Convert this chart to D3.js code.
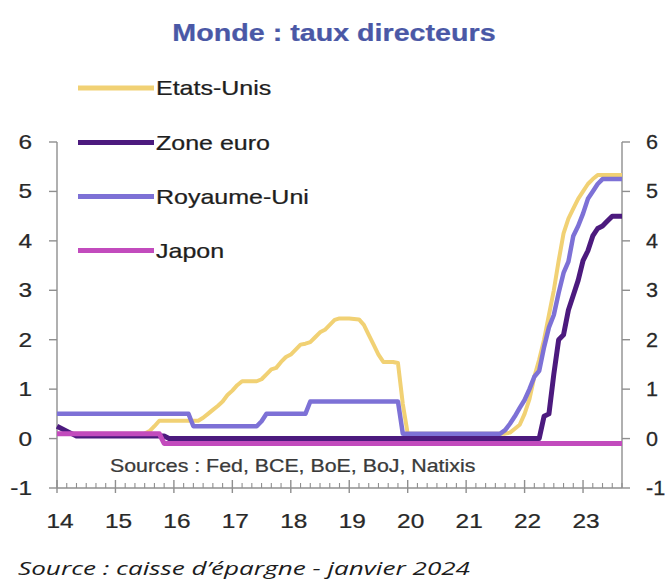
<!DOCTYPE html>
<html><head><meta charset="utf-8">
<script src="https://cdn.jsdelivr.net/npm/d3@7"></script>
<style>html,body{margin:0;padding:0;background:#fff;} svg{display:block;}</style>
</head><body>
<svg id="chart" width="667" height="582"></svg>
<script>
// ---- DATA (monthly, Jan 2014 .. Sep 2023) ----
const yearLabels = ["14","15","16","17","18","19","20","21","22","23"];
const yTicks = [-1,0,1,2,3,4,5,6];
const seriesNames = ["Etats-Unis","Zone euro","Royaume-Uni","Japon"];

const etatsUnis = [
 0.1,0.1,0.1,0.1,0.1,0.1,0.1,0.1,0.1,0.1,0.1,0.1,
 0.1,0.1,0.1,0.1,0.1,0.1,0.1,0.15,0.25,0.36,0.36,0.36,
 0.36,0.36,0.36,0.36,0.36,0.36,0.42,0.5,0.58,0.66,0.75,0.88,
 0.97,1.08,1.16,1.16,1.16,1.16,1.2,1.3,1.4,1.43,1.55,1.65,
 1.7,1.8,1.9,1.92,1.95,2.05,2.15,2.2,2.3,2.4,2.43,2.43,
 2.43,2.42,2.41,2.3,2.1,1.9,1.7,1.55,1.55,1.55,1.53,0.7,
 0.1,0.1,0.1,0.1,0.1,0.1,0.1,0.1,0.1,0.1,0.1,0.1,
 0.1,0.1,0.1,0.1,0.1,0.1,0.1,0.1,0.1,0.12,0.2,0.28,
 0.5,0.8,1.25,1.6,2.0,2.5,3.0,3.6,4.15,4.45,4.65,4.85,
 5.0,5.15,5.25,5.33,5.33,5.33,5.33,5.33,5.33
];
const zoneEuro = [
 0.25,0.2,0.15,0.1,0.05,0.05,0.05,0.05,0.05,0.05,0.05,0.05,
 0.05,0.05,0.05,0.05,0.05,0.05,0.05,0.05,0.05,0.05,0.05,0,
 0,0,0,0,0,0,0,0,0,0,0,0,
 0,0,0,0,0,0,0,0,0,0,0,0,
 0,0,0,0,0,0,0,0,0,0,0,0,
 0,0,0,0,0,0,0,0,0,0,0,0,
 0,0,0,0,0,0,0,0,0,0,0,0,
 0,0,0,0,0,0,0,0,0,0,0,0,
 0,0,0,0,0.45,0.5,1.3,2.0,2.1,2.6,2.9,3.2,
 3.6,3.8,4.1,4.25,4.3,4.4,4.5,4.5,4.5
];
const royaumeUni = [
 0.5,0.5,0.5,0.5,0.5,0.5,0.5,0.5,0.5,0.5,0.5,0.5,
 0.5,0.5,0.5,0.5,0.5,0.5,0.5,0.5,0.5,0.5,0.5,0.5,
 0.5,0.5,0.5,0.5,0.25,0.25,0.25,0.25,0.25,0.25,0.25,0.25,
 0.25,0.25,0.25,0.25,0.25,0.25,0.35,0.5,0.5,0.5,0.5,0.5,
 0.5,0.5,0.5,0.5,0.75,0.75,0.75,0.75,0.75,0.75,0.75,0.75,
 0.75,0.75,0.75,0.75,0.75,0.75,0.75,0.75,0.75,0.75,0.75,0.1,
 0.1,0.1,0.1,0.1,0.1,0.1,0.1,0.1,0.1,0.1,0.1,0.1,
 0.1,0.1,0.1,0.1,0.1,0.1,0.1,0.1,0.17,0.3,0.45,0.62,
 0.78,1.0,1.25,1.37,1.85,2.25,2.5,2.95,3.35,3.58,4.1,4.3,
 4.55,4.85,5.0,5.15,5.25,5.25,5.25,5.25,5.25
];
const japon = [
 0.1,0.1,0.1,0.1,0.1,0.1,0.1,0.1,0.1,0.1,0.1,0.1,
 0.1,0.1,0.1,0.1,0.1,0.1,0.1,0.1,0.1,0.1,-0.1,-0.1,
 -0.1,-0.1,-0.1,-0.1,-0.1,-0.1,-0.1,-0.1,-0.1,-0.1,-0.1,-0.1,
 -0.1,-0.1,-0.1,-0.1,-0.1,-0.1,-0.1,-0.1,-0.1,-0.1,-0.1,-0.1,
 -0.1,-0.1,-0.1,-0.1,-0.1,-0.1,-0.1,-0.1,-0.1,-0.1,-0.1,-0.1,
 -0.1,-0.1,-0.1,-0.1,-0.1,-0.1,-0.1,-0.1,-0.1,-0.1,-0.1,-0.1,
 -0.1,-0.1,-0.1,-0.1,-0.1,-0.1,-0.1,-0.1,-0.1,-0.1,-0.1,-0.1,
 -0.1,-0.1,-0.1,-0.1,-0.1,-0.1,-0.1,-0.1,-0.1,-0.1,-0.1,-0.1,
 -0.1,-0.1,-0.1,-0.1,-0.1,-0.1,-0.1,-0.1,-0.1,-0.1,-0.1,-0.1,
 -0.1,-0.1,-0.1,-0.1,-0.1,-0.1,-0.1,-0.1,-0.1
];
const seriesColors = ["#f1d174","#4c1a7e","#7d71d6","#c24bbd"];
const seriesWidths = [4,5,4.5,5];

// ---- DRAWING ----
const svg = d3.select("#chart");
svg.append("rect").attr("width",667).attr("height",582).attr("fill","#fff");
const SX = 1.22;
const FONT = "'Liberation Sans', Arial, Helvetica, sans-serif";
const AXIS = "#8f8f8f";

function label(parent, px, py, str, size, anchor, fill, weight, sx){
  return parent.append("text")
    .attr("transform", `translate(${px},${py}) scale(${sx||SX},1)`)
    .attr("text-anchor", anchor)
    .style("font-family", FONT)
    .style("font-size", size + "px")
    .style("font-weight", weight || "normal")
    .attr("fill", fill)
    .attr("stroke", fill)
    .attr("stroke-width", 0.25)
    .text(str);
}

const x = d3.scaleLinear().domain([0, etatsUnis.length - 1]).range([57, 622]);
const y = d3.scaleLinear().domain([-1, 6]).range([488, 142]);

// Title
label(svg, 334, 40.5, "Monde : taux directeurs", 23.5, "middle", "#4a58a6", "bold");

// Axes
const ax = svg.append("g").attr("stroke", AXIS).attr("stroke-width", 1.4).attr("fill","none");
ax.append("line").attr("x1", x(0)).attr("x2", x(0)).attr("y1", y(6)).attr("y2", y(-1));
ax.append("line").attr("x1", x.range()[1]).attr("x2", x.range()[1]).attr("y1", y(6)).attr("y2", y(-1));
ax.append("line").attr("x1", x(0)).attr("x2", x.range()[1]).attr("y1", y(-1)).attr("y2", y(-1));
yTicks.forEach(v => {
  ax.append("line").attr("x1", x(0) - 8).attr("x2", x(0)).attr("y1", y(v)).attr("y2", y(v));
  ax.append("line").attr("x1", x.range()[1]).attr("x2", x.range()[1] + 8).attr("y1", y(v)).attr("y2", y(v));
});
// bottom ticks: majors at each January, minors every 2 months
const n = etatsUnis.length;
for (let m = 0; m < n; m += 2) {
  if (m % 12 === 0) {
    ax.append("line").attr("x1", x(m)).attr("x2", x(m)).attr("y1", y(-1) - 8).attr("y2", y(-1) + 5);
  } else {
    ax.append("line").attr("x1", x(m)).attr("x2", x(m)).attr("y1", y(-1) - 5).attr("y2", y(-1)).attr("stroke-width", 1.1);
  }
}

// Tick labels
yTicks.forEach(v => {
  label(svg, 32, y(v) + 7, String(v), 20, "end", "#282828");
  label(svg, 646, y(v) + 7, String(v), 20, "start", "#282828", "normal", 1.08);
});
yearLabels.forEach((t, i) => {
  label(svg, x(i * 12) + 3, 528, t, 20, "middle", "#282828");
});

// Series lines
const seriesData = [etatsUnis, zoneEuro, royaumeUni, japon];
const line = d3.line().x((d, i) => x(i)).y(d => y(d));
seriesData.forEach((data, k) => {
  svg.append("path").datum(data)
    .attr("d", line)
    .attr("fill", "none")
    .attr("stroke", seriesColors[k])
    .attr("stroke-width", seriesWidths[k])
    .attr("stroke-linejoin", "round");
});

// Legend
const legendY = [88, 142.5, 196.5, 250.5];
seriesNames.forEach((name, k) => {
  svg.append("line").attr("x1", 78).attr("x2", 154)
    .attr("y1", legendY[k]).attr("y2", legendY[k])
    .attr("stroke", seriesColors[k]).attr("stroke-width", 5);
  label(svg, 156, legendY[k] + 7, name, 20.5, "start", "#1e1e1e");
});

// Sources inside plot
label(svg, 110, 471.5, "Sources : Fed, BCE, BoE, BoJ, Natixis", 17.5, "start", "#3a3a3a");

// Footer
svg.append("text")
  .attr("x", 18).attr("y", 575)
  .attr("textLength", 452).attr("lengthAdjust", "spacingAndGlyphs")
  .style("font-family", "'Open Sans', 'Noto Sans', sans-serif")
  .style("font-style", "italic")
  .style("font-size", "19px")
  .attr("fill", "#1c1c1c")
  .text("Source : caisse d\u2019\u00e9pargne - janvier 2024");
</script>
</body></html>
